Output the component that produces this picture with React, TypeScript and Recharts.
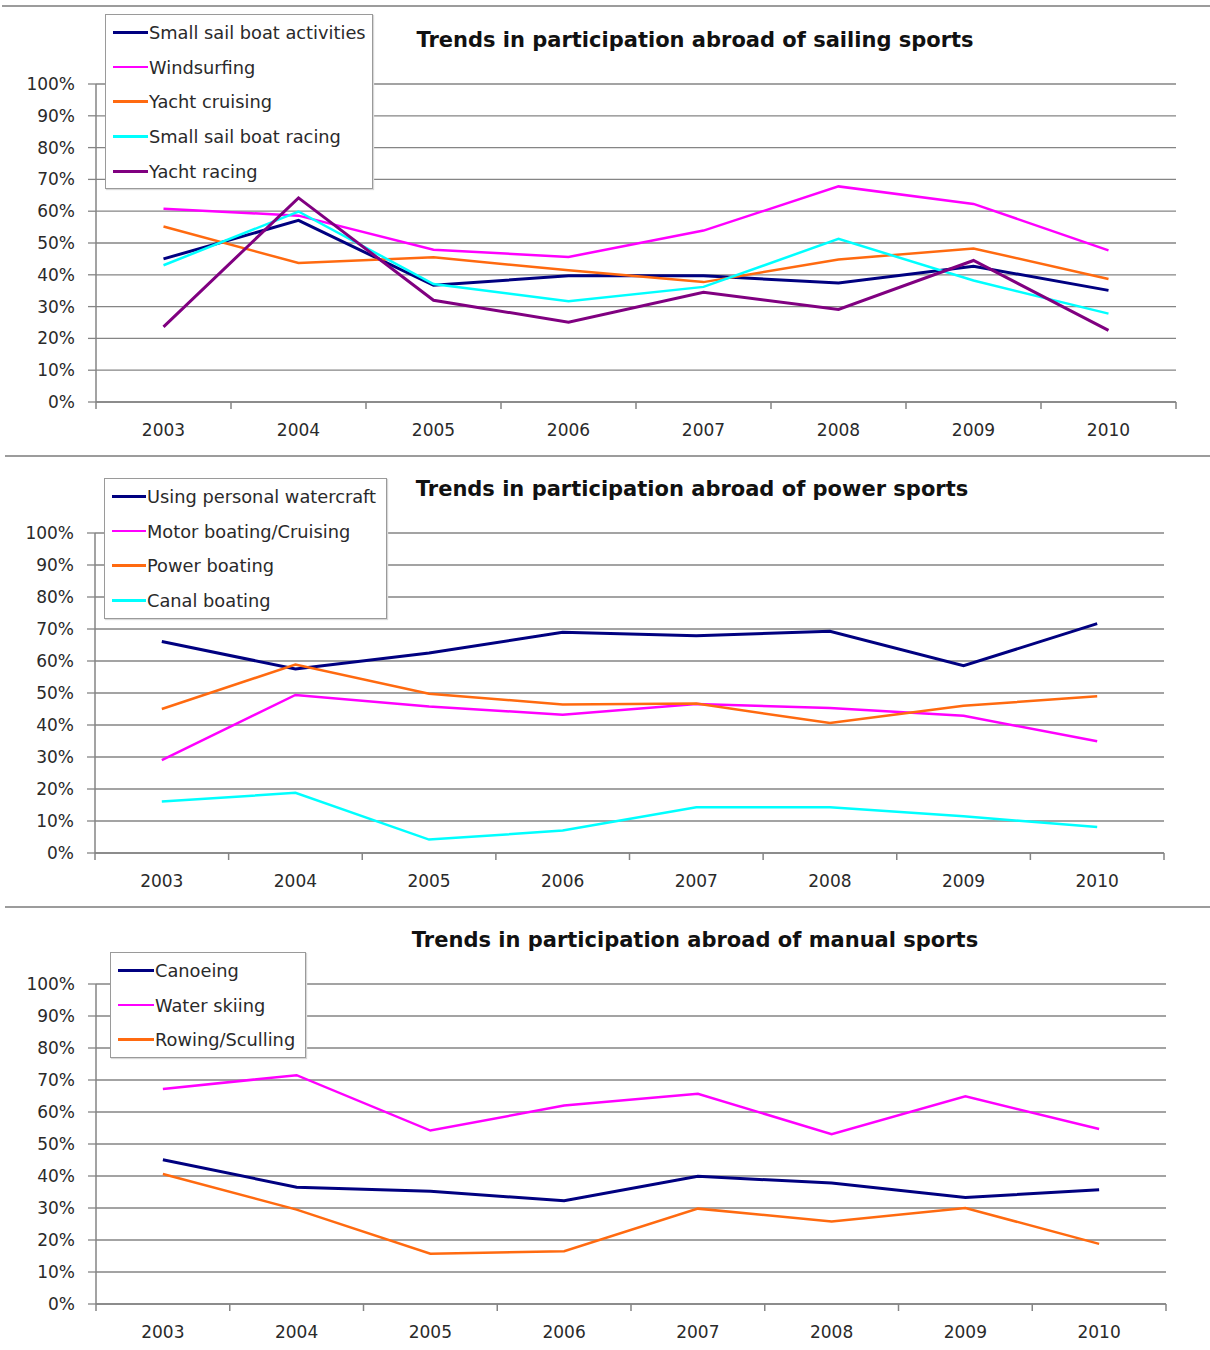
import React from 'react';
import { LineChart, Line, XAxis, YAxis, CartesianGrid, Legend } from 'recharts';

// ---------- data ----------
const years = ['2003', '2004', '2005', '2006', '2007', '2008', '2009', '2010'];
const yTicks = [0, 10, 20, 30, 40, 50, 60, 70, 80, 90, 100];

// sailing sports (%)
const smallSailBoatActivities = [45.0, 57.1, 36.7, 39.7, 39.7, 37.4, 42.7, 35.1];
const windsurfing = [60.8, 58.6, 47.9, 45.6, 53.9, 67.8, 62.3, 47.7];
const yachtCruising = [55.2, 43.7, 45.5, 41.4, 37.7, 44.8, 48.3, 38.7];
const smallSailBoatRacing = [43.0, 59.9, 37.1, 31.7, 36.2, 51.3, 38.2, 27.8];
const yachtRacing = [23.6, 64.2, 32.0, 25.1, 34.5, 29.1, 44.5, 22.5];

// power sports (%)
const personalWatercraft = [66.1, 57.5, 62.5, 69.0, 67.9, 69.3, 58.5, 71.7];
const motorBoating = [29.0, 49.4, 45.8, 43.2, 46.6, 45.3, 42.9, 34.9];
const powerBoating = [45.0, 58.9, 49.8, 46.4, 46.7, 40.6, 46.0, 49.0];
const canalBoating = [16.1, 18.8, 4.2, 7.0, 14.3, 14.3, 11.5, 8.1];

// manual sports (%)
const canoeing = [45.1, 36.5, 35.2, 32.3, 39.9, 37.8, 33.3, 35.7];
const waterSkiing = [67.2, 71.5, 54.2, 62.0, 65.7, 53.1, 64.9, 54.7];
const rowingSculling = [40.6, 29.5, 15.7, 16.5, 29.8, 25.8, 30.0, 18.8];

const titles = [
  'Trends in participation abroad of sailing sports',
  'Trends in participation abroad of power sports',
  'Trends in participation abroad of manual sports',
];

// ---------- styles ----------
const NAVY = '#000080';
const MAGENTA = '#ff00ff';
const ORANGE = '#ff6a10';
const CYAN = '#00ffff';
const PURPLE = '#800080';
const FONT = '"DejaVu Sans", Verdana, sans-serif';
const GRID = '#858585';
const TEXT = '#2a2a2a';

type Series = { key: string; name: string; values: number[]; color: string; width: number };

const sailing: Series[] = [
  { key: 'a', name: 'Small sail boat activities', values: smallSailBoatActivities, color: NAVY, width: 3 },
  { key: 'b', name: 'Windsurfing', values: windsurfing, color: MAGENTA, width: 2.5 },
  { key: 'c', name: 'Yacht cruising', values: yachtCruising, color: ORANGE, width: 2.5 },
  { key: 'd', name: 'Small sail boat racing', values: smallSailBoatRacing, color: CYAN, width: 2.5 },
  { key: 'e', name: 'Yacht racing', values: yachtRacing, color: PURPLE, width: 3 },
];
const power: Series[] = [
  { key: 'a', name: 'Using personal watercraft', values: personalWatercraft, color: NAVY, width: 3 },
  { key: 'b', name: 'Motor boating/Cruising', values: motorBoating, color: MAGENTA, width: 2.5 },
  { key: 'c', name: 'Power boating', values: powerBoating, color: ORANGE, width: 2.5 },
  { key: 'd', name: 'Canal boating', values: canalBoating, color: CYAN, width: 2.5 },
];
const manual: Series[] = [
  { key: 'a', name: 'Canoeing', values: canoeing, color: NAVY, width: 3 },
  { key: 'b', name: 'Water skiing', values: waterSkiing, color: MAGENTA, width: 2.5 },
  { key: 'c', name: 'Rowing/Sculling', values: rowingSculling, color: ORANGE, width: 2.5 },
];

type Layout = {
  top: number; height: number; mTop: number; mBottom: number; plotLeft: number; plotRight: number;
  legendLeft: number; legendTop: number; lineX: number; textX: number; legendW: number;
  titleX: number; titleY: number;
};

const X_AXIS_H = 40;
const W = 1210;

function XTick(props: any) {
  const { x, y, index, step, count } = props;
  const v = props.payload?.value;
  return (
    <g>
      <line x1={x - step / 2} x2={x - step / 2} y1={y} y2={y + 7} stroke={GRID} strokeWidth={1.5} />
      {index === count - 1 && (
        <line x1={x + step / 2} x2={x + step / 2} y1={y} y2={y + 7} stroke={GRID} strokeWidth={1.5} />
      )}
      <text x={x} y={y + 28} textAnchor="middle" dominantBaseline="central" fill={TEXT}
        style={{ fontFamily: FONT, fontSize: 17 }}>{v}</text>
    </g>
  );
}

function Panel({ series, layout, title }: { series: Series[]; layout: Layout; title: string }) {
  const rows = years.map((yr, i) => {
    const r: any = { year: yr };
    series.forEach((s) => (r[s.key] = s.values[i]));
    return r;
  });
  const plotW = layout.plotRight - layout.plotLeft;
  const step = plotW / years.length;
  const legendContent = () => (
    <div style={{
      background: '#fff', border: '1px solid #9a9a9a', boxShadow: '1px 1px 1px #d8d8d8',
      width: layout.legendW, boxSizing: 'border-box', fontFamily: FONT, fontSize: 17.8, color: TEXT,
      textAlign: 'left',
    }}>
      {series.map((s) => (
        <div key={s.key} style={{ height: 34.7, display: 'flex', alignItems: 'center', whiteSpace: 'nowrap' }}>
          <div style={{ width: layout.textX - layout.lineX, marginLeft: layout.lineX - layout.legendLeft - 1, height: s.width, background: s.color }} />
          <span style={{ marginLeft: 1 }}>{s.name}</span>
        </div>
      ))}
    </div>
  );
  return (
    <div style={{ position: 'absolute', left: 0, top: layout.top, width: W, height: layout.height }}>
      <LineChart width={W} height={layout.height} data={rows}
        margin={{ top: layout.mTop, right: W - layout.plotRight, bottom: layout.mBottom, left: 0 }}>
        <CartesianGrid vertical={false} stroke={GRID} strokeWidth={1.3} />
        <XAxis dataKey="year" interval={0} height={X_AXIS_H} tickSize={0} tickMargin={0}
          padding={{ left: step / 2, right: step / 2 }}
          axisLine={{ stroke: GRID, strokeWidth: 1.5 }} tickLine={false}
          tick={(p: any) => <XTick {...p} step={step} count={years.length} />} />
        <YAxis domain={[0, 100]} ticks={yTicks} interval={0} width={layout.plotLeft}
          tickFormatter={(v: number) => `${v}%`} tickSize={8} tickMargin={13}
          axisLine={{ stroke: GRID, strokeWidth: 1.5 }} tickLine={{ stroke: GRID, strokeWidth: 1.3 }}
          tick={{ fill: TEXT, fontFamily: FONT, fontSize: 17 }} />
        <YAxis yAxisId="r" orientation="right" width={0} tick={false} tickLine={false}
          axisLine={{ stroke: GRID, strokeWidth: 1.5 }} />
        {series.map((s) => (
          <Line key={s.key} dataKey={s.key} name={s.name} stroke={s.color} strokeWidth={s.width}
            dot={false} activeDot={false} isAnimationActive={false} type="linear" />
        ))}
        <Legend layout="horizontal" verticalAlign="middle" align="center" content={legendContent}
          wrapperStyle={{ position: 'absolute', left: layout.legendLeft, top: layout.legendTop, width: layout.legendW }} />
      </LineChart>
      <div style={{
        position: 'absolute', left: layout.titleX - 400, width: 800, top: layout.titleY - layout.top - 14,
        height: 28, lineHeight: '28px', textAlign: 'center', fontFamily: FONT, fontWeight: 'bold',
        fontSize: 21, color: '#111',
      }}>{title}</div>
    </div>
  );
}

const layouts: Layout[] = [
  { top: 0, height: 450, mTop: 84, mBottom: 450 - 402 - X_AXIS_H, plotLeft: 96, plotRight: 1176,
    legendLeft: 105, legendTop: 14, lineX: 113, textX: 148, legendW: 268, titleX: 695, titleY: 40 },
  { top: 460, height: 440, mTop: 533 - 460, mBottom: 900 - 853 - X_AXIS_H, plotLeft: 95, plotRight: 1164,
    legendLeft: 104, legendTop: 18, lineX: 112, textX: 146, legendW: 283, titleX: 692, titleY: 489 },
  { top: 910, height: 440, mTop: 984 - 910, mBottom: 1350 - 1304 - X_AXIS_H, plotLeft: 96, plotRight: 1166,
    legendLeft: 110, legendTop: 42, lineX: 118, textX: 154, legendW: 196, titleX: 695, titleY: 940 },
];

const separators = [6, 456, 907];

export default function App() {
  return (
    <div style={{ position: 'absolute', left: 0, top: 0, width: W, height: 1350, background: '#fff', overflow: 'hidden' }}>
      {separators.map((y, i) => (
        <div key={i} style={{ position: 'absolute', left: i === 0 ? 2 : 5, right: 0, top: y - 1, height: 2, background: '#9c9c9c' }} />
      ))}
      <Panel series={sailing} layout={layouts[0]} title={titles[0]} />
      <Panel series={power} layout={layouts[1]} title={titles[1]} />
      <Panel series={manual} layout={layouts[2]} title={titles[2]} />
    </div>
  );
}
